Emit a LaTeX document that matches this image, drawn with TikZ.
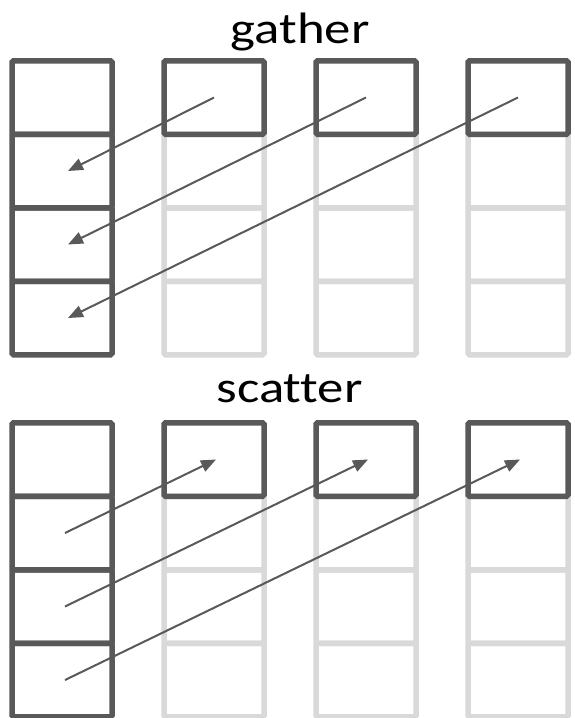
\documentclass[tikz,border=0pt]{standalone}
\usepackage{fontspec}
\setmainfont{Carlito}[Ligatures=NoCommon]
\usetikzlibrary{arrows.meta}
\definecolor{cellgray}{RGB}{89,89,89}
\definecolor{ghostgray}{RGB}{217,217,217}
\newcommand{\widelabel}[1]{\scalebox{1.2}[1]{#1}}

\begin{document}
\begin{tikzpicture}[x=1pt,y=-1pt,
  cell/.style={draw=cellgray, line width=5.5pt, rectangle, rounded corners=1.5pt,
    minimum width=100pt, minimum height=73.5pt, inner sep=0pt},
  ghost/.style={cell, draw=ghostgray},
  title/.style={anchor=base, inner sep=0pt, font=\fontsize{44}{44}\selectfont},
  move/.style={draw=cellgray, line width=2pt, -{Triangle[length=15pt,width=12pt]}}]
  \useasboundingbox (0,0) rectangle (574,718);

  % gather: unused slots first, so the dark frames lie on top
  \foreach \c/\x in {2/214,3/366,4/518}
    \foreach \r in {2,3,4}
      \node[ghost] (g\c\r) at (\x,{97.5+73.5*(\r-1)}) {};
  \foreach \r in {1,2,3,4}
    \node[cell] (g1\r) at (62,{97.5+73.5*(\r-1)}) {};
  \node[cell] (g21) at (214,97.5) {};
  \node[cell] (g31) at (366,97.5) {};
  \node[cell] (g41) at (518,97.5) {};
  \node[title] (gtitle) at (300,43) {\widelabel{gather}};

  % gather arrows
  \draw[move] (g21.center) -- ([xshift=6pt]g12.center);
  \draw[move] (g31.center) -- ([xshift=6pt]g13.center);
  \draw[move] (g41.center) -- ([xshift=6pt]g14.center);

  % scatter: same layout, shifted down
  \foreach \c/\x in {2/214,3/366,4/518}
    \foreach \r in {2,3,4}
      \node[ghost] (s\c\r) at (\x,{459.5+73.5*(\r-1)}) {};
  \foreach \r in {1,2,3,4}
    \node[cell] (s1\r) at (62,{459.5+73.5*(\r-1)}) {};
  \node[cell] (s21) at (214,459.5) {};
  \node[cell] (s31) at (366,459.5) {};
  \node[cell] (s41) at (518,459.5) {};
  \node[title] (stitle) at (289.5,402) {\widelabel{scatter}};

  % scatter arrows
  \draw[move] ([xshift=3pt]s12.center) -- ([xshift=2pt]s21.center);
  \draw[move] ([xshift=3pt]s13.center) -- ([xshift=2pt]s31.center);
  \draw[move] ([xshift=3pt]s14.center) -- ([xshift=2pt]s41.center);
\end{tikzpicture}
\end{document}
